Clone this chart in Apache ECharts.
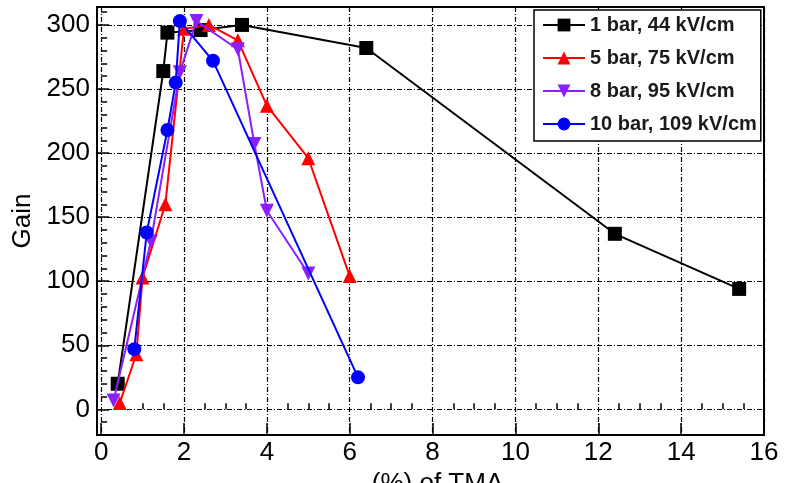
<!DOCTYPE html>
<html>
<head>
<meta charset="utf-8">
<script src="https://cdn.jsdelivr.net/npm/echarts@6/dist/echarts.min.js"></script>
<style>
  html, body { margin: 0; padding: 0; background: #fff; }
  #chart { width: 790px; height: 483px; }
</style>
</head>
<body>
<div id="chart"></div>
<script>
// Gain versus TMA concentration, four pressure / drift-field settings
const seriesNames = ['1 bar, 44 kV/cm', '5 bar, 75 kV/cm', '8 bar, 95 kV/cm', '10 bar, 109 kV/cm'];

const tma1bar = [0.4, 1.5, 1.6, 2.4, 3.4, 6.4, 12.4, 15.4];
const gain1bar = [20, 264, 294, 296, 300, 282, 137, 94];

const tma5bar = [0.45, 0.85, 1.0, 1.55, 2.0, 2.6, 3.3, 4.0, 5.0, 6.0];
const gain5bar = [5, 43, 103, 160, 297, 300, 288, 237, 196, 104];

const tma8bar = [0.3, 1.2, 1.9, 2.3, 3.3, 3.7, 4.0, 5.0];
const gain8bar = [7, 131, 263, 303, 281, 207, 155, 106];

const tma10bar = [0.8, 1.1, 1.6, 1.8, 1.9, 2.7, 6.2];
const gain10bar = [47, 138, 218, 255, 303, 272, 25];

const xMajorTicks = [0, 2, 4, 6, 8, 10, 12, 14, 16];
const yMajorTicks = [0, 50, 100, 150, 200, 250, 300];

// minor tick positions between the labelled ones
function minorTicks(lo, hi, step, majors) {
  const out = [];
  for (let v = lo; v <= hi + 1e-9; v += step) {
    const r = Math.round(v * 1000) / 1000;
    if (majors.indexOf(r) < 0) out.push(r);
  }
  return out;
}
const xMinorTicks = minorTicks(0, 16, 0.5, xMajorTicks);
const yMinorTicks = minorTicks(-20, 310, 10, yMajorTicks);

const FONT = '"Liberation Sans", Arial, Helvetica, sans-serif';
const gridDash = { color: '#000', width: 1.2, type: [5, 2, 1, 2] };

function pairs(xs, ys) { return xs.map((x, i) => [x, ys[i]]); }

const chart = echarts.init(document.getElementById('chart'), null, { renderer: 'canvas' });

chart.setOption({
  animation: false,
  backgroundColor: '#fff',
  textStyle: { fontFamily: FONT },
  grid: {
    left: 97, right: 26, top: 7, bottom: 48,
    containLabel: false, outerBoundsMode: 'none',
    show: true, borderColor: '#000', borderWidth: 2, backgroundColor: 'transparent'
  },
  xAxis: [
    {
      type: 'value', min: -0.1, max: 16, position: 'bottom',
      name: '(%) of TMA', nameLocation: 'middle', nameGap: 27,
      nameTextStyle: { fontSize: 26, color: '#000', fontFamily: FONT, padding: [0, 0, 0, 14] },
      axisLine: { show: true, onZero: false, lineStyle: { color: '#000', width: 2 } },
      axisTick: { show: true, inside: true, length: 12, customValues: xMajorTicks, lineStyle: { color: '#000', width: 1.5 } },
      axisLabel: { customValues: xMajorTicks, fontSize: 26, color: '#000', margin: 5, fontFamily: FONT },
      splitLine: { show: true, lineStyle: gridDash }
    },
    {
      type: 'value', min: -0.1, max: 16, position: 'bottom',
      axisLine: { show: false },
      axisTick: { show: true, inside: true, length: 6, customValues: xMinorTicks, lineStyle: { color: '#000', width: 1.5 } },
      axisLabel: { show: false },
      splitLine: { show: false }
    }
  ],
  yAxis: [
    {
      type: 'value', min: -20, max: 314, position: 'left',
      name: 'Gain', nameLocation: 'middle', nameGap: 54, nameRotate: 90,
      nameTextStyle: { fontSize: 26, color: '#000', fontFamily: FONT },
      axisLine: { show: true, onZero: false, lineStyle: { color: '#000', width: 2 } },
      axisTick: { show: true, inside: true, length: 12, customValues: yMajorTicks, lineStyle: { color: '#000', width: 1.5 } },
      axisLabel: { customValues: yMajorTicks, fontSize: 26, color: '#000', margin: 7, fontFamily: FONT },
      splitLine: { show: true, lineStyle: gridDash }
    },
    {
      type: 'value', min: -20, max: 314, position: 'left',
      axisLine: { show: false },
      axisTick: { show: true, inside: true, length: 6, customValues: yMinorTicks, lineStyle: { color: '#000', width: 1.5 } },
      axisLabel: { show: false },
      splitLine: { show: false }
    }
  ],
  legend: {
    orient: 'vertical',
    left: 534, top: 10,
    padding: [4, 4, 6, 8],
    itemGap: 11,
    itemWidth: 42, itemHeight: 16,
    backgroundColor: '#fff',
    borderColor: '#000', borderWidth: 1.5,
    textStyle: { fontSize: 20, fontWeight: 'bold', color: '#1a1a1a', fontFamily: FONT, lineHeight: 22 },
    data: seriesNames
  },
  series: [
    {
      name: seriesNames[0], type: 'line', data: pairs(tma1bar, gain1bar),
      symbol: 'rect', symbolSize: 14,
      lineStyle: { color: '#000', width: 2 }, itemStyle: { color: '#000' }, z: 2
    },
    {
      name: seriesNames[1], type: 'line', data: pairs(tma5bar, gain5bar),
      symbol: 'triangle', symbolSize: 14,
      lineStyle: { color: '#ff0000', width: 2 }, itemStyle: { color: '#ff0000' }, z: 3
    },
    {
      name: seriesNames[2], type: 'line', data: pairs(tma8bar, gain8bar),
      symbol: 'triangle', symbolRotate: 180, symbolSize: 14,
      lineStyle: { color: '#8c1eff', width: 2 }, itemStyle: { color: '#8c1eff' }, z: 4
    },
    {
      name: seriesNames[3], type: 'line', data: pairs(tma10bar, gain10bar),
      symbol: 'circle', symbolSize: 14,
      lineStyle: { color: '#0000ff', width: 2 }, itemStyle: { color: '#0000ff' }, z: 5
    }
  ]
});
</script>
</body>
</html>
